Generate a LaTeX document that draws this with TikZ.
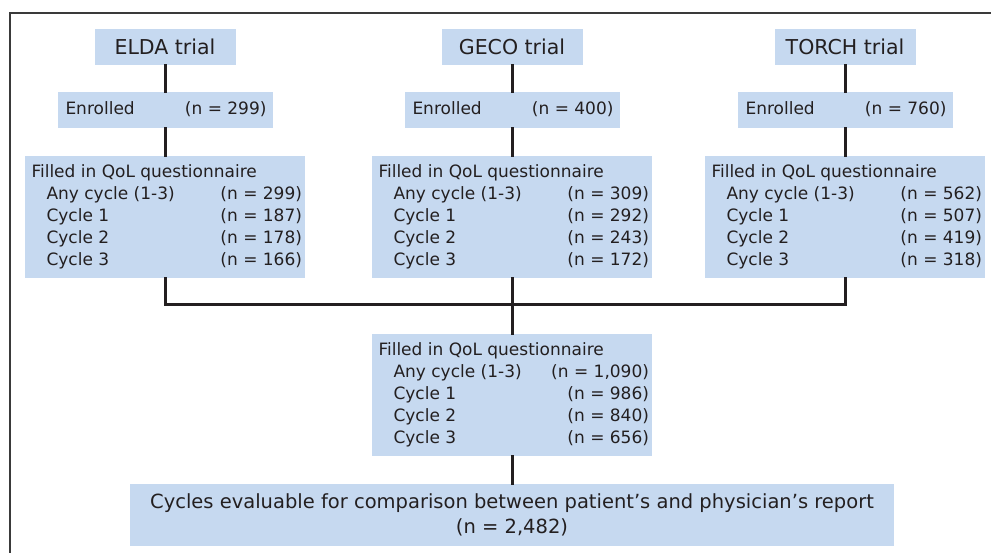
\documentclass[tikz,border=0pt]{standalone}
\usepackage{fontspec}
\setmainfont{DejaVu Sans}
\usepackage{array}
\definecolor{boxblue}{HTML}{C6D9F0}
\definecolor{ink}{HTML}{231F20}
\definecolor{framegray}{HTML}{3A3A3A}
\newcommand{\qolrows}[5]{%
\begin{tabular*}{280pt}{@{\hspace{6.5pt}}l@{\extracolsep{\fill}}r@{\hspace{3pt}}}
\multicolumn{2}{@{\hspace{6.5pt}}l}{Filled in QoL questionnaire}\\
\hspace{15pt}Any cycle (1-3) & (n = #1)\\
\hspace{15pt}Cycle 1 & (n = #2)\\
\hspace{15pt}Cycle 2 & (n = #3)\\
\hspace{15pt}Cycle 3 & (n = #4)
\end{tabular*}}
\newcommand{\enrolrow}[1]{%
\begin{tabular*}{215pt}{@{\hspace{8pt}}l@{\extracolsep{\fill}}r@{\hspace{6pt}}}
Enrolled & (n = #1)
\end{tabular*}}
\begin{document}
\begin{tikzpicture}[x=1pt,y=-1pt,
  bx/.style={fill=boxblue, draw=none, inner sep=0pt, text=ink},
  trialbox/.style={bx, minimum width=141pt, minimum height=36pt, font=\fontsize{20.5}{24}\selectfont},
  enrolbox/.style={bx, minimum width=215pt, minimum height=36pt, font=\fontsize{17}{22}\selectfont},
  qolbox/.style={bx, minimum width=280pt, minimum height=122pt, font=\fontsize{17}{22}\selectfont},
  finalbox/.style={bx, minimum width=764pt, minimum height=62pt, align=center, font=\fontsize{19.5}{25}\selectfont},
  conn/.style={draw=ink, line width=3pt, line join=miter, line cap=rect}]
\useasboundingbox (0,0) rectangle (991,553);
\coordinate (fa) at (991,13);
\coordinate (fb) at (10,13);
\coordinate (fc) at (10,553);
\draw[framegray, line width=1.6pt] (fa) -- (fb) -- (fc);

\node[trialbox] (t1) at (165,47) {ELDA trial};
\node[trialbox] (t2) at (512,47) {GECO trial};
\node[trialbox] (t3) at (845,47) {TORCH trial};

\node[enrolbox] (e1) at (165,110) {\enrolrow{299}};
\node[enrolbox] (e2) at (512,110) {\enrolrow{400}};
\node[enrolbox] (e3) at (845,110) {\enrolrow{760}};

\node[qolbox] (q1) at (165,217) {\qolrows{299}{187}{178}{166}{}};
\node[qolbox] (q2) at (512,217) {\qolrows{309}{292}{243}{172}{}};
\node[qolbox] (q3) at (845,217) {\qolrows{562}{507}{419}{318}{}};

\node[qolbox] (qm) at (512,395) {\qolrows{1,090}{986}{840}{656}{}};

\node[finalbox] (fin) at (512,515) {Cycles evaluable for comparison between patient’s and physician’s report\\(n = 2,482)};

\coordinate (j1) at (165,305);
\coordinate (j3) at (845,305);

\draw[conn] (t1) -- (e1);
\draw[conn] (e1) -- (q1);
\draw[conn] (t2) -- (e2);
\draw[conn] (e2) -- (q2);
\draw[conn] (t3) -- (e3);
\draw[conn] (e3) -- (q3);
\draw[conn] (q1) -- (j1) -- (j3) -- (q3);
\draw[conn] (q2) -- (qm);
\draw[conn] (qm) -- (fin);
\end{tikzpicture}
\end{document}
